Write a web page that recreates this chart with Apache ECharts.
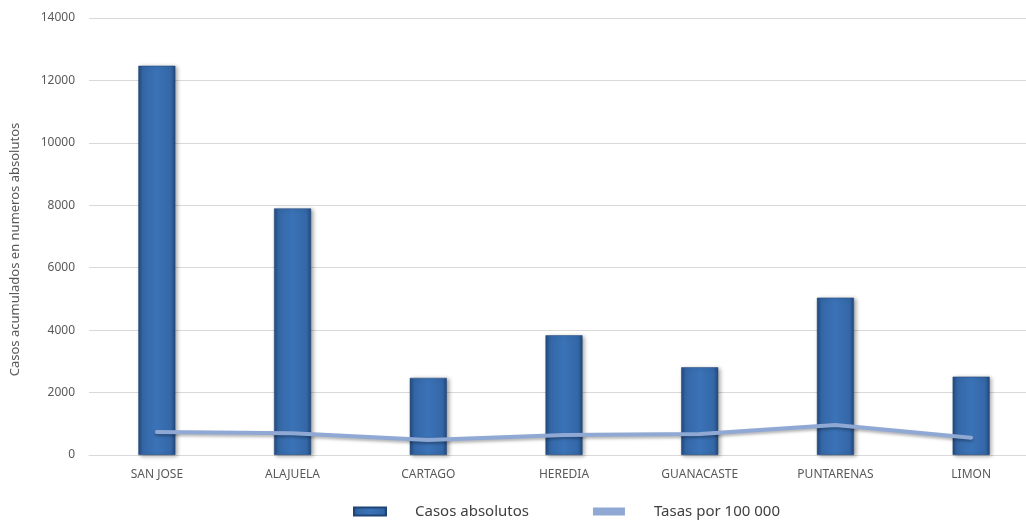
<!DOCTYPE html>
<html>
<head>
<meta charset="utf-8">
<script src="https://cdn.jsdelivr.net/npm/echarts@6/dist/echarts.min.js"></script>
<style>
  html, body { margin: 0; padding: 0; background: #fff; }
  #chart { width: 1026px; height: 521px; }
</style>
</head>
<body>
<div id="chart"></div>
<script>
  // datos
  const provincias = ['SAN JOSE', 'ALAJUELA', 'CARTAGO', 'HEREDIA', 'GUANACASTE', 'PUNTARENAS', 'LIMON'];
  const casosAbsolutos = [12470, 7900, 2470, 3835, 2810, 5040, 2510];
  const tasas = [740, 695, 480, 640, 670, 960, 555];

  const myChart = echarts.init(document.getElementById('chart'));

  // barra tipo "cilindro": bordes oscuros, centro más claro
  const barColor = new echarts.graphic.LinearGradient(0, 0, 1, 0, [
    { offset: 0, color: '#22497e' },
    { offset: 0.12, color: '#3467a6' },
    { offset: 0.5, color: '#3b73b8' },
    { offset: 0.88, color: '#3467a6' },
    { offset: 1, color: '#22497e' }
  ]);

  const option = {
    backgroundColor: '#fff',
    animation: false,
    textStyle: { fontFamily: 'Noto Sans' },
    grid: {
      left: 89,
      top: 18,
      bottom: 66,
      width: 950,
      outerBoundsMode: 'none'
    },
    legend: {
      left: 348,
      top: 499,
      itemWidth: 32,
      itemHeight: 8,
      itemGap: 64,
      textStyle: { color: '#404040', fontSize: 15, padding: [0, 0, 0, 24] },
      data: [
        { name: 'Casos absolutos', icon: 'rect' },
        { name: 'Tasas por 100 000', icon: 'rect', itemStyle: { color: '#8fa8d4' } }
      ]
    },
    xAxis: {
      type: 'category',
      data: provincias,
      axisLine: { lineStyle: { color: '#d9d9d9' } },
      axisTick: { show: false },
      axisLabel: { color: '#595959', fontSize: 12, margin: 14 }
    },
    yAxis: {
      type: 'value',
      min: 0,
      max: 14000,
      interval: 2000,
      name: 'Casos acumulados en numeros absolutos',
      nameLocation: 'middle',
      nameGap: 67,
      nameTextStyle: { color: '#595959', fontSize: 13, padding: [0, 26, 0, 0] },
      axisLine: { show: false },
      axisTick: { show: false },
      axisLabel: { color: '#595959', fontSize: 12, margin: 14, formatter: v => String(v) },
      splitLine: { lineStyle: { color: '#d9d9d9' } }
    },
    series: [
      {
        name: 'Casos absolutos',
        type: 'bar',
        data: casosAbsolutos,
        barWidth: 37,
        itemStyle: {
          color: barColor,
          borderColor: '#1f4577',
          borderWidth: 0.5,
          shadowColor: 'rgba(0,0,0,0.35)',
          shadowBlur: 4,
          shadowOffsetX: 2,
          shadowOffsetY: 1
        }
      },
      {
        name: 'Tasas por 100 000',
        type: 'line',
        data: tasas,
        symbol: 'none',
        z: 5,
        lineStyle: {
          color: '#8fa8d4',
          width: 4,
          cap: 'round',
          shadowColor: 'rgba(0,0,0,0.3)',
          shadowBlur: 3,
          shadowOffsetY: 2
        },
        itemStyle: { color: '#8fa8d4' }
      }
    ]
  };
  myChart.setOption(option);
</script>
</body>
</html>
